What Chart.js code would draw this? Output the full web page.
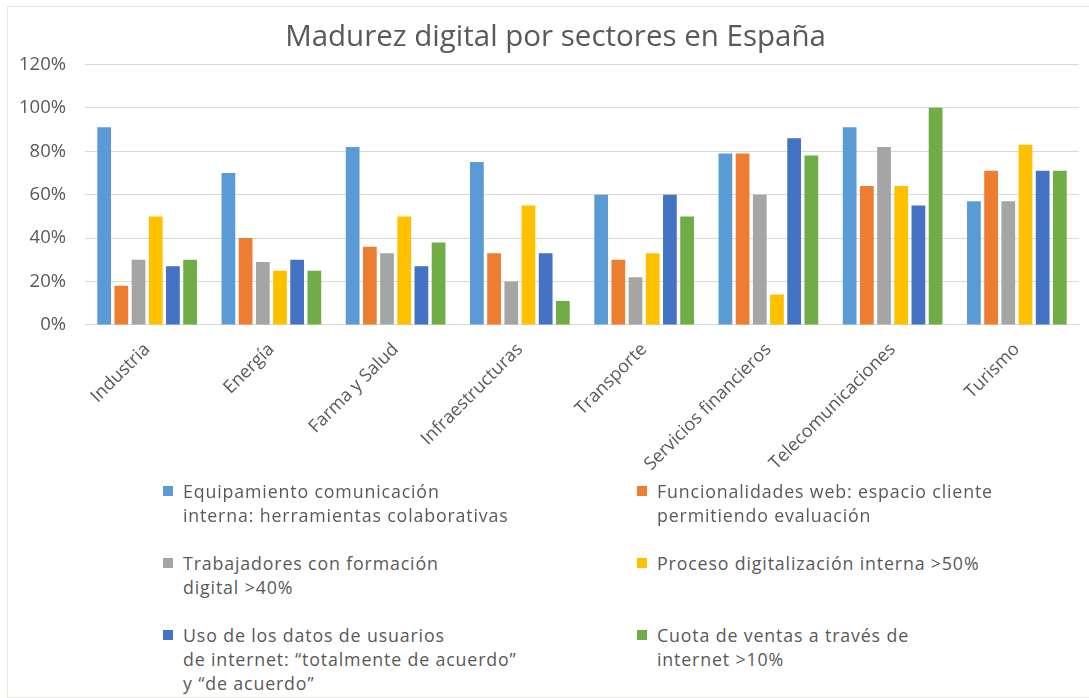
<!DOCTYPE html>
<html>
<head>
<meta charset="utf-8">
<script src="https://cdn.jsdelivr.net/npm/chart.js@4.4.1/dist/chart.umd.min.js"></script>
<style>
  html, body { margin: 0; padding: 0; background: #fff; overflow: hidden; }
  #wrap {
    position: relative;
    width: 1089px;
    height: 698px;
    font-family: 'Open Sans', sans-serif;
  }
  #frame {
    position: absolute;
    left: 7px;
    top: 6px;
    width: 1100px;
    height: 690px;
    border: 1px solid #e9e8dc;
  }
  #chart-box { position: absolute; left: 0; top: 0; width: 1087px; height: 481px; }
  #legend { position: absolute; left: 0; top: 478px; width: 1087px; }
  .item {
    position: absolute;
    color: #595959;
    font-size: 17.8px;
    letter-spacing: 0.85px;
    line-height: 24px;
    white-space: nowrap;
  }
  .item .sw {
    position: absolute;
    left: -20px;
    top: 7px;
    width: 10px;
    height: 10px;
  }
</style>
</head>
<body>
<div id="wrap">
  <div id="frame"></div>
  <div id="chart-box"><canvas id="madurez-chart"></canvas></div>
  <div id="legend"></div>
</div>
<script>
// Sectores (eje X)
const sectores = ['Industria', 'Energía', 'Farma y Salud', 'Infraestructuras', 'Transporte',
  'Servicios financieros', 'Telecomunicaciones', 'Turismo'];

// Indicadores (series), en %
const equipamiento = [91, 70, 82, 75, 60, 79, 91, 57];
const funcionalidadesWeb = [18, 40, 36, 33, 30, 79, 64, 71];
const trabajadoresFormacion = [30, 29, 33, 20, 22, 60, 82, 57];
const procesoDigitalizacion = [50, 25, 50, 55, 33, 14, 64, 83];
const usoDatos = [27, 30, 27, 33, 60, 86, 55, 71];
const cuotaVentas = [30, 25, 38, 11, 50, 78, 100, 71];

// Etiquetas de la leyenda (con saltos de línea como en el original)
const nombresSeries = [
  ['Equipamiento comunicación', 'interna: herramientas colaborativas'],
  ['Funcionalidades web: espacio cliente', 'permitiendo evaluación'],
  ['Trabajadores con formación', 'digital >40%'],
  ['Proceso digitalización interna >50%'],
  ['Uso de los datos de usuarios', 'de internet: “totalmente de acuerdo”', 'y “de acuerdo”'],
  ['Cuota de ventas a través de', 'internet >10%']
];

const colores = ['#5B9BD5', '#ED7D31', '#A5A5A5', '#FFC000', '#4472C4', '#70AD47'];

// Ticks del eje Y
const yMin = 0;
const yMax = 120;
const yStep = 20;

// the original title sits a bit right of the canvas centre
const shiftTitle = {
    id: 'shiftTitle',
    afterLayout: function(chart) {
        if (chart.titleBlock) {
            chart.titleBlock.left += 16;
            chart.titleBlock.right += 16;
        }
    }
};

document.addEventListener('DOMContentLoaded', function() {
    const valores = [equipamiento, funcionalidadesWeb, trabajadoresFormacion,
      procesoDigitalizacion, usoDatos, cuotaVentas];

    const datasets = valores.map(function(serie, i) {
        return {
            label: nombresSeries[i].join(' '),
            data: serie,
            backgroundColor: colores[i],
            borderWidth: 0,
            categoryPercentage: 0.83,
            barPercentage: 0.8
        };
    });

    const canvas = document.getElementById('madurez-chart');

    new Chart(canvas, {
        type: 'bar',
        data: { labels: sectores, datasets: datasets },
        plugins: [shiftTitle],
        options: {
            responsive: true,
            maintainAspectRatio: false,
            animation: false,
            layout: { padding: { left: 0, right: 8, top: 4, bottom: 0 } },
            plugins: {
                legend: { display: false },
                tooltip: { enabled: false },
                title: {
                    display: true,
                    text: 'Madurez digital por sectores en España',
                    color: '#595959',
                    font: { family: 'Open Sans', size: 29.5, weight: 'normal' },
                    padding: { top: 16, bottom: 9 }
                }
            },
            scales: {
                y: {
                    min: yMin,
                    max: yMax,
                    // fixed axis width so the plot starts where the original does
                    afterFit: function(scale) { scale.width = 85; },
                    ticks: {
                        stepSize: yStep,
                        color: '#595959',
                        padding: 19,
                        font: { family: 'Open Sans', size: 18.5 },
                        callback: function(v) { return v + '%'; }
                    },
                    grid: { color: '#d9d9d9', drawTicks: false },
                    border: { display: false }
                },
                x: {
                    afterFit: function(scale) { scale.paddingLeft = 0; },
                    ticks: {
                        color: '#595959',
                        minRotation: 45,
                        maxRotation: 45,
                        padding: 6,
                        font: { family: 'Open Sans', size: 18 }
                    },
                    grid: { display: false },
                    border: { color: '#d9d9d9' }
                }
            }
        }
    });

    // Leyenda en HTML, dos columnas
    const legend = document.getElementById('legend');
    const colX = [183, 657];
    const rowY = [1, 73, 145];
    nombresSeries.forEach(function(lineas, i) {
        const item = document.createElement('div');
        item.className = 'item';
        item.style.left = colX[i % 2] + 'px';
        item.style.top = rowY[Math.floor(i / 2)] + 'px';
        const sw = document.createElement('span');
        sw.className = 'sw';
        sw.style.background = colores[i];
        item.appendChild(sw);
        lineas.forEach(function(t) {
            const line = document.createElement('div');
            line.textContent = t;
            item.appendChild(line);
        });
        legend.appendChild(item);
    });
});
</script>
</body>
</html>
